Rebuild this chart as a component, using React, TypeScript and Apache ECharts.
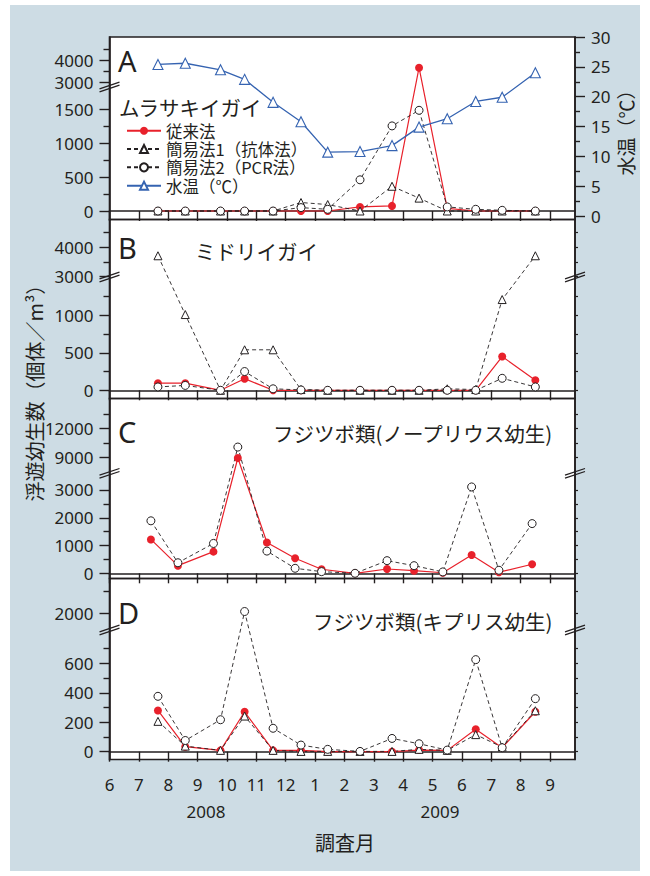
import React, { useEffect, useRef } from 'react';
import * as echarts from 'echarts';

// ---------- data ----------
const monthLabels = ['6', '7', '8', '9', '10', '11', '12', '1', '2', '3', '4', '5', '6', '7', '8', '9'];
const yearLabels = ['2008', '2009'];
const seriesNames = ['従来法', '簡易法1（抗体法）', '簡易法2（PCR法）', '水温（℃）'];
const panelTitles = ['ムラサキイガイ', 'ミドリイガイ', 'フジツボ類(ノープリウス幼生)', 'フジツボ類(キプリス幼生)'];
const panelLetters = ['A', 'B', 'C', 'D'];

// sampling dates in months after 1 June 2008
const sampleX = [1.65, 2.58, 3.78, 4.6, 5.57, 6.52, 7.43, 8.53, 9.62, 10.54, 11.5, 12.47, 13.37, 14.5];
const sampleXC = [1.41, 2.33, 3.54, 4.37, 5.36, 6.32, 7.22, 8.36, 9.45, 10.37, 11.35, 12.33, 13.26, 14.39];

const aConv = [0, 0, 0, 0, 0, 0, 0, 60, 75, 3680, 40, 0, 0, 0];
const aS1 = [0, 0, 0, 0, 0, 125, 95, 0, 365, 190, 0, 0, 0, 0];
const aS2 = [0, 0, 0, 0, 0, 50, 25, 460, 1255, 1485, 60, 25, 10, 0];
const aTemp = [25.4, 25.6, 24.5, 22.9, 19.05, 15.8, 10.7, 10.8, 11.8, 14.9, 16.3, 19.2, 19.9, 24.0];

const bConv = [95, 95, 0, 155, 0, 0, 0, 0, 0, 0, 0, 0, 450, 135];
const bS1 = [3710, 1010, 0, 540, 540, 10, 0, 0, 0, 0, 20, 10, 1210, 3710];
const bS2 = [45, 65, 0, 250, 20, 5, 0, 0, 0, 0, 0, 0, 160, 45];

const cConv = [1220, 275, 780, 8930, 1110, 540, 145, 0, 155, 95, 20, 660, 40, 325];
const cS2 = [1890, 380, 1075, 10060, 800, 180, 60, 0, 455, 275, 50, 3110, 110, 1790];

const dConv = [280, 34, 9, 271, 9, 9, 0, 0, 0, 11, 9, 152, 27, 271];
const dS1 = [206, 38, 9, 242, 9, 2, 2, 2, 2, 16, 9, 116, 31, 278];
const dS2 = [376, 76, 217, 2040, 159, 45, 16, 2, 90, 54, 11, 625, 27, 360];

const aMajors = [0, 500, 1000, 1500, 3000, 4000];
const aMinors = [250, 750, 1250, 3500, 4500];
const bMajors = [0, 500, 1000, 3000, 4000];
const bMinors = [250, 750, 1250, 3500, 4500];
const cMajors = [0, 1000, 2000, 3000, 9000, 12000];
const cMinors = [500, 1500, 2500, 10500, 13500];
const dMajors = [0, 200, 400, 600, 2000];
const dMinors = [100, 300, 500, 700, 2500];
const tempMajors = [0, 5, 10, 15, 20, 25, 30];
const tempMinors = [2.5, 7.5, 12.5, 17.5, 22.5, 27.5];

// ---------- layout / styles ----------
const BG = '#cddce4';
const INK = '#231f20';
const RED = '#e8212b';
const BLUE = '#3563b1';
const FONT = '"Noto Sans", "Noto Sans CJK JP", sans-serif';
const JFONT = '"Noto Sans CJK JP", "Noto Sans", sans-serif';
const GL = 109.5;
const GW = 465.5;
const XMAX = 15.85;

// broken-axis geometry: display unit = pixel above zero line
const panels = [
  { top: 37, bottom: 219.5, zero: 211, k: 0.0678, cut: 2500, brkV: 3000, brkD: 128.3, k2: 0.022, mark: 124, majors: aMajors, minors: aMinors, rightBreak: false },
  { top: 219.5, bottom: 398.5, zero: 390.3, k: 0.075, cut: 2000, brkV: 3000, brkD: 113.8, k2: 0.0292, mark: 113.3, majors: bMajors, minors: bMinors, rightBreak: true },
  { top: 398.5, bottom: 578.5, zero: 573.3, k: 0.02777, cut: 5000, brkV: 9000, brkD: 116, k2: 0.009667, mark: 100, majors: cMajors, minors: cMinors, rightBreak: true },
  { top: 578.5, bottom: 759.5, zero: 751.7, k: 0.1473, cut: 1500, brkV: 2000, brkD: 138.4, k2: 0.0446, mark: 121.7, majors: dMajors, minors: dMinors, rightBreak: true },
];

const mapFn = (p: any) => (v: number) => (v < p.cut ? v * p.k : p.brkD + (v - p.brkV) * p.k2);

function buildOption() {
  const grid: any[] = [];
  const xAxis: any[] = [];
  const yAxis: any[] = [];
  const series: any[] = [];
  const graphic: any[] = [];
  const monthTicks = monthLabels.map((_, i) => i);
  const axisLineStyle = { color: INK, width: 1.6 };

  const panelData = [
    { xs: sampleX, conv: aConv, s1: aS1, s2: aS2 },
    { xs: sampleX, conv: bConv, s1: bS1, s2: bS2 },
    { xs: sampleXC, conv: cConv, s1: null, s2: cS2 },
    { xs: sampleX, conv: dConv, s1: dS1, s2: dS2 },
  ];

  panels.forEach((p, i) => {
    const f = mapFn(p);
    const ymin = -(p.bottom - p.zero);
    const ymax = p.zero - p.top;
    grid.push({
      left: GL, width: GW, top: p.top, height: p.bottom - p.top,
      show: true, borderColor: INK, borderWidth: 1.6, backgroundColor: 'transparent',
    });
    xAxis.push({
      type: 'value', gridIndex: i, min: 0, max: XMAX,
      axisLine: { show: true, lineStyle: axisLineStyle },
      axisTick: { show: true, customValues: monthTicks, length: 10, lineStyle: { color: INK, width: 1.4 } },
      axisLabel: {
        show: i === 3, customValues: monthTicks, margin: 16, fontSize: 17, color: INK, fontFamily: FONT,
        formatter: (v: number) => monthLabels[Math.round(v)] ?? '',
      },
      splitLine: { show: false },
    });
    const majorD = p.majors.map(f);
    const minorD = p.minors.map(f);
    const yMajorIdx = yAxis.length;
    yAxis.push({
      type: 'value', gridIndex: i, min: ymin, max: ymax, position: 'left',
      axisLine: { show: true, lineStyle: axisLineStyle },
      axisTick: { show: true, customValues: majorD, length: 10, lineStyle: { color: INK, width: 1.4 } },
      axisLabel: {
        show: true, customValues: majorD, margin: 16, fontSize: 17, color: INK, fontFamily: FONT,
        formatter: (v: number) => {
          const idx = majorD.findIndex((d) => Math.abs(d - v) < 1e-6);
          return idx >= 0 ? String(p.majors[idx]) : '';
        },
      },
      splitLine: { show: false },
    });
    yAxis.push({
      type: 'value', gridIndex: i, min: ymin, max: ymax, position: 'left',
      axisLine: { show: false },
      axisTick: { show: true, customValues: minorD, length: 6, lineStyle: { color: INK, width: 1.4 } },
      axisLabel: { show: false },
      splitLine: { show: false },
    });
    let tempIdx = -1;
    if (i === 0) {
      tempIdx = yAxis.length;
      const tmin = -(p.bottom - 216) / 5.967;
      yAxis.push({
        type: 'value', gridIndex: i, min: tmin, max: 30, position: 'right',
        axisLine: { show: true, lineStyle: axisLineStyle },
        axisTick: { show: true, customValues: tempMajors, length: 10, lineStyle: { color: INK, width: 1.4 } },
        axisLabel: { show: true, customValues: tempMajors, margin: 16, fontSize: 17, color: INK, fontFamily: FONT },
        splitLine: { show: false },
      });
      yAxis.push({
        type: 'value', gridIndex: i, min: tmin, max: 30, position: 'right',
        axisLine: { show: false },
        axisTick: { show: true, customValues: tempMinors, length: 5, lineStyle: { color: INK, width: 1.4 } },
        axisLabel: { show: false },
        splitLine: { show: false },
      });
    } else {
      yAxis.push({
        type: 'value', gridIndex: i, min: ymin, max: ymax, position: 'right',
        axisLine: { show: true, lineStyle: axisLineStyle },
        axisTick: { show: true, customValues: majorD.concat(minorD), length: 3, lineStyle: { color: INK, width: 1.2 } },
        axisLabel: { show: false },
        splitLine: { show: false },
      });
    }

    const pd = panelData[i];
    const toData = (vals: number[]) => pd.xs.map((x, j) => [x, f(vals[j])]);
    series.push({
      name: seriesNames[0], type: 'line', xAxisIndex: i, yAxisIndex: yMajorIdx,
      data: toData(pd.conv), symbol: 'circle', symbolSize: 8,
      itemStyle: { color: RED }, lineStyle: { color: RED, width: 1.2 },
    });
    if (pd.s1) {
      series.push({
        name: seriesNames[1], type: 'line', xAxisIndex: i, yAxisIndex: yMajorIdx,
        data: toData(pd.s1), symbol: 'triangle', symbolSize: 8,
        itemStyle: { color: '#fff', borderColor: INK, borderWidth: 1 },
        lineStyle: { color: INK, width: 0.9, type: [4, 3] },
      });
    }
    series.push({
      name: seriesNames[2], type: 'line', xAxisIndex: i, yAxisIndex: yMajorIdx,
      data: toData(pd.s2), symbol: 'circle', symbolSize: 8,
      itemStyle: { color: '#fff', borderColor: INK, borderWidth: 1 },
      lineStyle: { color: INK, width: 0.9, type: [4, 3] },
    });
    if (i === 0) {
      series.push({
        name: seriesNames[3], type: 'line', xAxisIndex: i, yAxisIndex: tempIdx,
        data: sampleX.map((x, j) => [x, aTemp[j]]), symbol: 'triangle', symbolSize: 10,
        itemStyle: { color: '#fff', borderColor: BLUE, borderWidth: 1.1 },
        lineStyle: { color: BLUE, width: 1.3 },
      });
    }

    // break marks
    const by = p.zero - p.mark;
    const xs = p.rightBreak ? [GL, GL + GW] : [GL];
    xs.forEach((cx) => {
      [-1.5, 1.5].forEach((off) => {
        graphic.push({
          type: 'line', z: 100,
          shape: { x1: cx - 10, y1: by + off + 3.3, x2: cx + 10, y2: by + off - 3.3 },
          style: { stroke: INK, lineWidth: 1.3 },
        });
      });
    });
  });

  // texts
  const letterY = [60, 247, 431, 612];
  panelLetters.forEach((t, i) => {
    graphic.push({
      type: 'text', x: 118, y: letterY[i], z: 100,
      style: { text: t, fontSize: 29, fontFamily: FONT, fill: INK, align: 'left', verticalAlign: 'middle' },
    });
  });
  const titlePos = [
    { x: 119, y: 106.5 },
    { x: 195, y: 251 },
    { x: 273, y: 433 },
    { x: 313, y: 621 },
  ];
  panelTitles.forEach((t, i) => {
    graphic.push({
      type: 'text', x: titlePos[i].x, y: titlePos[i].y, z: 100,
      style: { text: t, fontSize: 20.5, fontFamily: JFONT, fill: INK, align: 'left', verticalAlign: 'middle' },
    });
  });
  graphic.push({
    type: 'text', x: 34, y: 388, rotation: Math.PI / 2, z: 100,
    style: { text: '浮遊幼生数（個体／m³）', fontSize: 20, fontFamily: JFONT, fill: INK, align: 'center', verticalAlign: 'middle' },
  });
  graphic.push({
    type: 'text', x: 625, y: 128, rotation: Math.PI / 2, z: 100,
    style: { text: '水温（℃）', fontSize: 19, fontFamily: JFONT, fill: INK, align: 'center', verticalAlign: 'middle' },
  });
  [206, 440].forEach((x, i) => {
    graphic.push({
      type: 'text', x, y: 811.5, z: 100,
      style: { text: yearLabels[i], fontSize: 17, fontFamily: FONT, fill: INK, align: 'center', verticalAlign: 'middle' },
    });
  });
  graphic.push({
    type: 'text', x: 345, y: 842, z: 100,
    style: { text: '調査月', fontSize: 20, fontFamily: JFONT, fill: INK, align: 'center', verticalAlign: 'middle' },
  });

  return {
    animation: false,
    grid, xAxis, yAxis, series, graphic,
    legend: {
      show: true, orient: 'vertical', left: 126, top: 122.5, padding: 0, itemWidth: 34, itemHeight: 10, itemGap: 1.8,
      selectedMode: false, data: seriesNames,
      textStyle: { fontSize: 16.5, fontFamily: JFONT, color: INK, lineHeight: 16.5 },
    },
  };
}

export default function App() {
  const ref = useRef<HTMLDivElement>(null);
  useEffect(() => {
    const chart = echarts.init(ref.current as HTMLDivElement, null, { renderer: 'svg' });
    chart.setOption(buildOption() as any);
    return () => chart.dispose();
  }, []);
  return (
    <div style={{ position: 'absolute', left: 0, top: 0, width: 650, height: 876, background: '#fff', overflow: 'hidden' }}>
      <div style={{ position: 'absolute', left: 10, top: 5, width: 630, height: 866, background: BG }} />
      <div style={{ position: 'absolute', left: GL, top: 37, width: GW, height: 722.5, background: '#fff' }} />
      <div ref={ref} style={{ position: 'absolute', left: 0, top: 0, width: 650, height: 876 }} />
    </div>
  );
}
